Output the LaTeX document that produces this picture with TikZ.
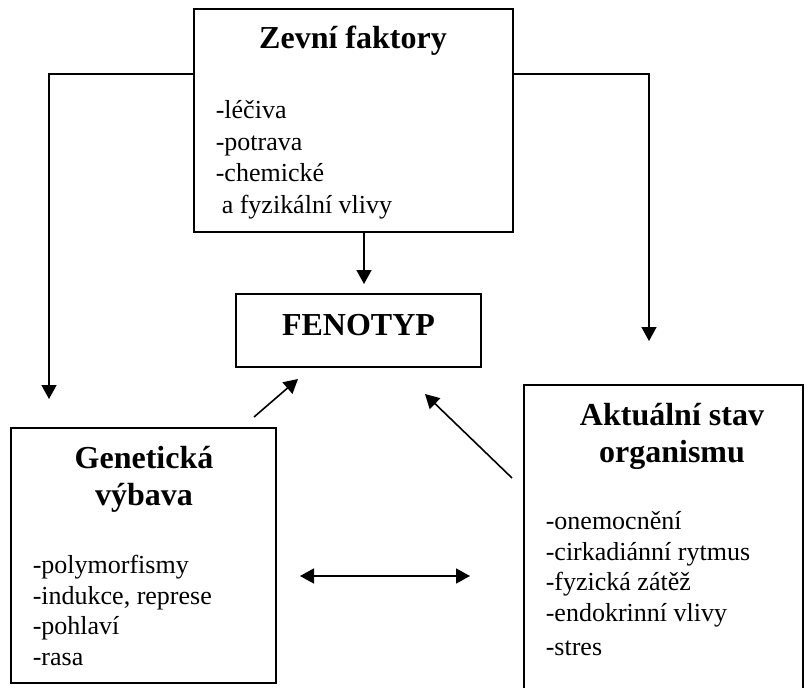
\documentclass[tikz,border=0pt]{standalone}
\usepackage{fontspec}
\setmainfont{Liberation Serif}
\usetikzlibrary{arrows.meta,positioning}

\tikzset{
  box/.style={draw, line width=2pt, inner sep=0pt},
  title/.style={font=\fontsize{32}{37}\selectfont\bfseries, align=center, inner sep=0pt},
  items/.style={font=\fontsize{26}{30.5}\selectfont, align=left, inner sep=0pt},
}

\begin{document}
\begin{tikzpicture}[x=1pt,y=-1pt,>={Triangle[length=14pt,width=15pt]},line width=1.6pt]
    \useasboundingbox (0,0) rectangle (807,688);

    \node[box, minimum width=319pt, minimum height=223pt] (zevni) at (353.5,120.5) {};
    \node[box, title, minimum width=245pt, minimum height=73pt, text depth=12pt] (fenotyp) at (358.5,330.5) {FENOTYP};
    \node[box, minimum width=265pt, minimum height=255pt] (genetika) at (143.5,555.5) {};
    \node[box, minimum width=279pt, minimum height=315pt] (stav) at (663.5,542.5) {};

    % base = baseline of the last line
    \node[title, anchor=base] (zevnit) at (353,48) {Zevní faktory};
    \node[items, font=\fontsize{26}{31.5}\selectfont, anchor=base west] (zevnil) at (215,213) {-léčiva\\-potrava\\-chemické\\\hspace*{6pt}a fyzikální vlivy};
    \node[title, anchor=base] (genetikat) at (144,505) {Genetická\\výbava};
    \node[items, anchor=base west] (genetikal) at (32,665) {-polymorfismy\\-indukce, represe\\-pohlaví\\-rasa};
    \node[title, anchor=base] (stavt) at (672,462) {Aktuální stav\\organismu};
    \node[items, anchor=base west] (stavl) at (545,655) {-onemocnění\\-cirkadiánní rytmus\\-fyzická zátěž\\-endokrinní vlivy\\[3.5pt]-stres};

    \coordinate (lcorner) at (49,74);
    \coordinate (rcorner) at (649,74);
    \coordinate (cdown) at (364,0);

    \draw[->, shorten >=28pt] (zevni.west |- lcorner) -- (lcorner) -- (lcorner |- genetika.north);
    \draw[->, shorten >=43pt] (zevni.east |- rcorner) -- (rcorner) -- (rcorner |- stav.north);
    \draw[->, shorten >=9pt] (zevni.south -| cdown) -- (fenotyp.north -| cdown);
    \draw[->] ([shift={(110.5,-10)}]genetika.north) -- ([shift={(-60.5,11)}]fenotyp.south);
    \draw[->] ([shift={(-11,94)}]stav.north west) -- ([shift={(66.5,26)}]fenotyp.south);
    \draw[<->] ([shift={(23,20.5)}]genetika.east) -- ([shift={(-53,33.5)}]stav.west);
\end{tikzpicture}
\end{document}
